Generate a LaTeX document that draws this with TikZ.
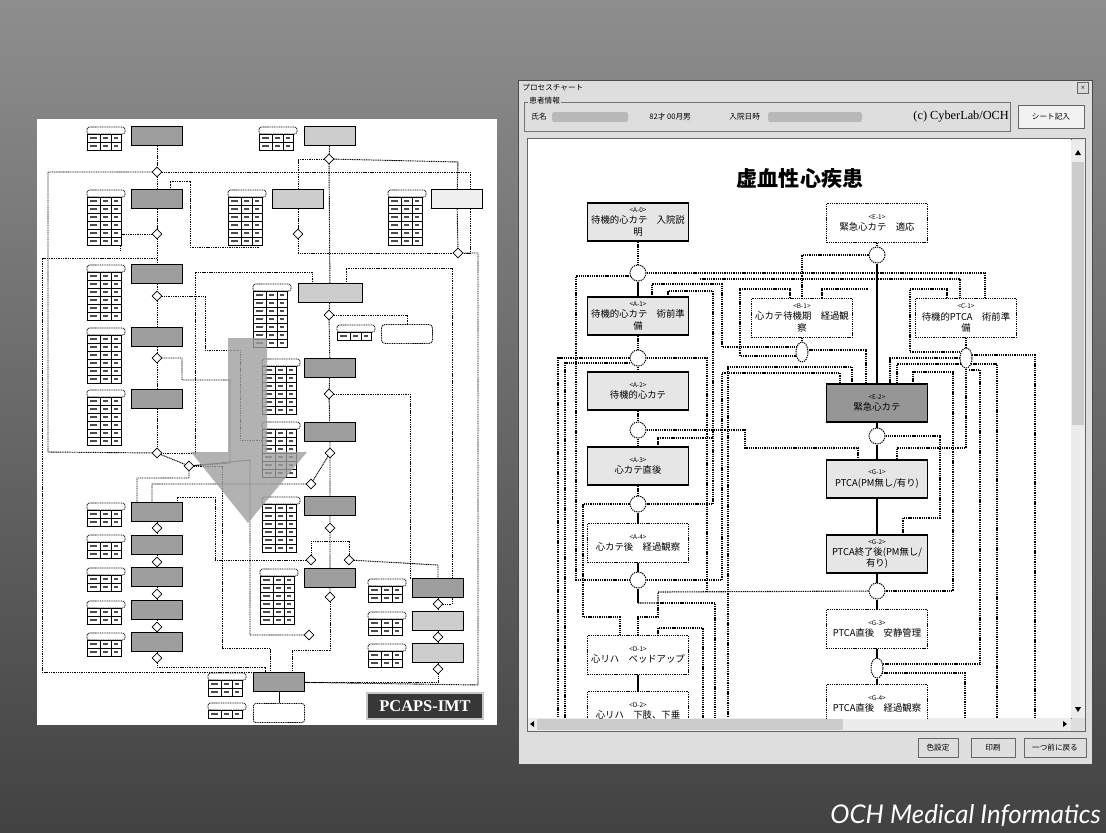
\documentclass[tikz,border=0pt]{standalone}
\usepackage{fontspec}
\setmainfont{Liberation Serif}
\newfontfamily\cjk{Noto Sans CJK JP}
\newfontfamily\footfont{Lato}
\usetikzlibrary{shapes.geometric, positioning, calc}

\definecolor{bgtop}{RGB}{142,142,142}
\definecolor{bgbot}{RGB}{66,66,66}
\definecolor{winbg}{RGB}{222,222,222}
\definecolor{donefill}{RGB}{230,230,230}
\definecolor{nowfill}{RGB}{150,150,150}
\definecolor{lgdark}{RGB}{158,158,158}
\definecolor{lglight}{RGB}{205,205,205}
\definecolor{labelbg}{RGB}{55,55,55}

\pgfdeclarelayer{back}
\pgfdeclarelayer{wires}
\pgfsetlayers{back,wires,main}

% right chart
\tikzstyle{pbox} = [draw, dash pattern=on 1.1pt off 0.8pt, line width=0.95pt, fill=white, minimum width=3.03cm,
                    minimum height=1.15cm, align=center, inner sep=1pt, font=\cjk\fontsize{8}{9.5}\selectfont]
\tikzstyle{pdone} = [pbox, solid, line width=1.4pt, fill=donefill]
\tikzstyle{pnow} = [pdone, fill=nowfill]
\tikzstyle{junc} = [draw, dash pattern=on 1.1pt off 0.8pt, line width=0.85pt, circle, fill=white, minimum size=0.48cm, inner sep=0pt]
\tikzstyle{jell} = [junc, ellipse, minimum width=0.36cm, minimum height=0.6cm]
\tikzstyle{wire} = [dash pattern=on 1.1pt off 0.8pt, line width=0.95pt]
\tikzstyle{link} = [line width=0.9pt]
\tikzstyle{hfont} = [font=\cjk\fontsize{6.5}{7}\selectfont, inner sep=1pt]
\tikzstyle{wbtn} = [draw=black!60, fill=winbg, minimum height=0.57cm, inner sep=1pt, font=\cjk\fontsize{6.5}{7}\selectfont]
% left sheet
\tikzstyle{lproc} = [draw, line width=0.7pt, fill=lgdark, minimum width=1.53cm, minimum height=0.57cm, inner sep=0pt]
\tikzstyle{lprocl} = [lproc, fill=lglight]
\tikzstyle{ldia} = [draw, diamond, fill=white, minimum size=0.3cm, inner sep=0pt, line width=0.6pt]
\tikzstyle{lwire} = [dash pattern=on 0.9pt off 0.6pt, line width=0.8pt]

\newcommand\boxtag[1]{{\fontsize{5.5}{6}\selectfont #1}}
\newcommand\ltab[3]{%
  \draw[dash pattern=on 0.9pt off 0.6pt, line width=0.6pt, rounded corners=2pt, fill=white] (#1,#2) rectangle ++(38,7);
  \draw[fill=white, line width=0.6pt] (#1,#2+7) rectangle ++(34,#3*8);
  \foreach \r in {1,...,#3}{
    \draw[line width=0.45pt] (#1,#2+7+\r*8) -- ++(34,0);
    \draw[black!70, line width=1pt] (#1+3,#2+3+\r*8) -- ++(7,0) (#1+16,#2+3+\r*8) -- ++(5,0) (#1+27,#2+3+\r*8) -- ++(4,0);
  }
  \draw[line width=0.45pt] (#1+13,#2+7) -- ++(0,#3*8) (#1+24,#2+7) -- ++(0,#3*8);
}

\begin{document}
\begin{tikzpicture}[x=0.03cm, y=-0.03cm]
\useasboundingbox (0,0) rectangle (1106,833);

\begin{pgfonlayer}{back}
  \shade[top color=bgtop, bottom color=bgbot] (0,0) rectangle (1106,833);
  \fill[white] (37,119) rectangle (497,725);
  \draw[fill=winbg, draw=black!70] (518,80) rectangle (1092,764);
  \draw[fill=white, draw=black!60] (527,138) rectangle (1071,718);
\end{pgfonlayer}

% ---------------- left sheet ----------------
\node[lproc] (l1) at (157,136) {};
\node[lprocl] (l2) at (330,136) {};
\node[lproc] (l3) at (157,199) {};
\node[lprocl] (l4) at (298,199) {};
\node[lprocl, fill=gray!12] (l5) at (457,199) {};
\node[lproc] (l6) at (157,274) {};
\node[lprocl, minimum width=1.92cm] (l7) at (330,293) {};
\node[lproc] (l8) at (157,337) {};
\node[lproc] (l9) at (330,368) {};
\node[lproc] (l10) at (157,399) {};
\node[lproc] (l11) at (330,432) {};
\node[lproc] (l12) at (157,512) {};
\node[lproc] (l13) at (330,506) {};
\node[lproc] (l14) at (157,545) {};
\node[lproc] (l15) at (157,577) {};
\node[lproc] (l16) at (330,578) {};
\node[lproc] (l17) at (157,610) {};
\node[lproc] (l18) at (438,588) {};
\node[lprocl] (l19) at (438,621) {};
\node[lproc] (l20) at (157,642) {};
\node[lprocl] (l21) at (438,653) {};
\node[lproc] (l22) at (279,682) {};
\node[lproc, fill=white, dash pattern=on 0.9pt off 0.6pt, rounded corners=2pt] (l23) at (279,713) {};
\node[lproc, fill=white, dash pattern=on 0.9pt off 0.6pt, rounded corners=3pt] (l24) at (407,334) {};

\ltab{87}{127}{2} \ltab{259}{127}{2}
\ltab{87}{190}{6} \ltab{228}{190}{6} \ltab{388}{190}{6}
\ltab{87}{265}{6} \ltab{253}{284}{7}
\ltab{87}{328}{6} \ltab{337}{325}{1}
\ltab{262}{359}{6} \ltab{87}{390}{6}
\ltab{262}{422}{6}
\ltab{87}{503}{2} \ltab{262}{497}{6}
\ltab{87}{535}{2} \ltab{87}{568}{2} \ltab{260}{569}{6}
\ltab{87}{601}{2} \ltab{368}{579}{2} \ltab{368}{612}{2}
\ltab{87}{633}{2} \ltab{368}{644}{2}
\ltab{208}{673}{2} \ltab{208}{703}{1}

\node[ldia] (ld1) at (157,172) {};
\node[ldia] (ld2) at (329,159) {};
\node[ldia] (ld3) at (157,234) {};
\node[ldia] (ld4) at (298,234) {};
\node[ldia] (ld5) at (458,253) {};
\node[ldia] (ld6) at (157,296) {};
\node[ldia] (ld7) at (329,315) {};
\node[ldia] (ld8) at (157,358) {};
\node[ldia] (ld9) at (329,394) {};
\node[ldia] (ld10) at (157,453) {};
\node[ldia] (ld11) at (330,453) {};
\node[ldia] (ld12) at (189,466) {};
\node[ldia] (ld13) at (311,484) {};
\node[ldia] (ld14) at (157,528) {};
\node[ldia] (ld15) at (330,528) {};
\node[ldia] (ld16) at (157,562) {};
\node[ldia] (ld17) at (311,560) {};
\node[ldia] (ld18) at (349,560) {};
\node[ldia] (ld19) at (157,594) {};
\node[ldia] (ld20) at (330,597) {};
\node[ldia] (ld21) at (438,604) {};
\node[ldia] (ld22) at (157,627) {};
\node[ldia] (ld23) at (309,635) {};
\node[ldia] (ld24) at (438,637) {};
\node[ldia] (ld25) at (157,658) {};
\node[ldia] (ld26) at (438,669) {};

\begin{pgfonlayer}{wires}
  \draw[lwire] (l1) -- (ld1) -- (l3) -- (ld3) -- (l6) -- (ld6) -- (l8) -- (ld8) -- (l10) -- (ld10);
  \draw[lwire] (l12) -- (ld14) -- (l14) -- (ld16) -- (l15) -- (ld19) -- (l17) -- (ld22) -- (l20) -- (ld25);
  \draw[lwire] (l2) -- (ld2) -- (l7) -- (ld7) -- (l9) -- (ld9) -- (l11) -- (ld11) -- (l13) -- (ld15) -- (l16) -- (ld20);
  \draw[lwire] (ld20) -- (330,650) -- (292,650) -- (292,673);
  \draw[lwire] (l4) -- (ld4);
  \draw[lwire] (l5) -- (ld5);
  \draw[lwire] (ld1) -- (470,172) -- (470,253) -- (ld5);
  \draw[lwire] (ld1) -- (48,172) -- (48,452) -- (ld10);
  \draw[lwire] (ld2) -- (298,159) -- (l4);
  \draw[lwire] (ld2) -- (458,162) -- (l5);
  \draw[lwire] (ld4) -- (298,253) -- (ld5);
  \draw[lwire] (ld5) -- (478,253) -- (478,685) -- (l22);
  \draw[lwire] (157,258) -- (42,258) -- (42,672) -- (258,672) -- (258,673);
  \draw[lwire] (ld7) -| (l24);
  \draw[lwire] (ld10) -- (ld12) -- (189,478) -- (137,478) -- (137,503);
  \draw[lwire] (ld11) -- (ld13) -- (152,484) -- (152,503);
  \draw[lwire] (177,503) -- (177,497) -- (215,497) -- (215,560) -- (ld17);
  \draw[lwire] (ld17) -- (311,541) -- (349,541) -- (ld18);
  \draw[lwire] (ld18) -- (438,565) -- (l18);
  \draw[lwire] (l18) -- (ld21) -- (l19) -- (ld24) -- (l21) -- (ld26);
  \draw[lwire] (ld26) |- (l22);
  \draw[lwire] (ld25) -- (157,667) -- (265,667) -- (265,673);
  \draw[lwire] (ld12) -- (222,466) -- (222,648) -- (270,648) -- (270,673);
  \draw[lwire] (312,284) -- (312,272) -- (195,272) -- (195,453) -- (ld10);
  \draw[lwire] (346,284) -- (346,268) -- (452,268) -- (452,604) -- (ld21);
  \draw[lwire] (ld23) -- (250,635) -- (250,460) -- (ld12);
  \draw[lwire] (170,190) -- (170,181) -- (190,181) -- (190,247) -- (259,247);
  \draw[lwire] (ld3) -- (120,234) -- (120,250);
  \draw[lwire] (ld9) -- (410,394) -- (410,578) -- (426,578);
  \draw[lwire] (ld6) -- (205,296) -- (205,350) -- (240,350) -- (240,440) -- (262,440);
  \draw[lwire] (ld8) -- (182,358) -- (182,380) -- (230,380) -- (230,463) -- (ld12);
  \draw[link, line width=0.6pt] (l22) -- (l23);
\end{pgfonlayer}

% big arrow
\fill[gray!75, opacity=0.8] (228,338) -- (267,338) -- (267,452) -- (307,452) -- (248,523)
  -- (191,452) -- (228,452) -- cycle;

\node[draw=gray!45, line width=1pt, fill=labelbg, minimum width=3.48cm, minimum height=0.78cm,
      text=white, font=\bfseries\fontsize{14}{14}\selectfont] (pcaps) at (425,706) {PCAPS-IMT};

% ---------------- window ----------------
\node[hfont, anchor=west] (wtitle) at (521,88) {プロセスチャート};
\node[draw=black!60, fill=gray!30, minimum size=0.33cm, inner sep=0pt, font=\fontsize{7}{7}\selectfont] (wclose) at (1083,88) {×};
\draw[black!55, line width=0.4pt] (524,102) rectangle (1010,131);
\node[hfont, anchor=west, fill=winbg] (wgroup) at (528,101) {患者情報};
\node[hfont, anchor=west] (lname) at (530,117) {氏名};
\fill[gray!55, rounded corners=2pt] (552,112) rectangle (628,122);
\node[hfont, anchor=west] (age) at (648,117) {82才 00月};
\node[hfont, fill=gray!30, minimum size=0.3cm] (sex) at (687,117) {男};
\node[hfont, anchor=west] (ladm) at (728,117) {入院日時};
\fill[gray!55, rounded corners=2pt] (768,112) rectangle (862,122);
\node[anchor=east, font=\fontsize{10.5}{11}\selectfont, inner sep=0pt] (copy) at (1009,117) {(c) CyberLab/OCH};
\node[wbtn, fill=gray!10, minimum width=1.98cm, minimum height=0.69cm, line width=0.8pt] (sheet) at (1051,117) {シート記入};

% scrollbars
\fill[gray!15] (1071,140) rectangle (1085,718);
\fill[gray!40] (1072,162) rectangle (1084,425);
\fill[black] (1075,155) -- (1081,155) -- (1078,150) -- cycle;
\fill[black] (1075,707) -- (1081,707) -- (1078,712) -- cycle;
\fill[gray!15] (527,718) rectangle (1071,731);
\fill[gray!40] (537,719) rectangle (843,730);
\fill[black] (534,721) -- (534,727) -- (530,724) -- cycle;
\fill[black] (1063,721) -- (1063,727) -- (1067,724) -- cycle;
\draw[black!60] (527,138) rectangle (1085,731);

\node[wbtn, minimum width=1.2cm] (bcolor) at (938,748) {色設定};
\node[wbtn, minimum width=1.32cm] (bprint) at (993,748) {印刷};
\node[wbtn, minimum width=1.86cm] (bback) at (1055,748) {一つ前に戻る};

% ---------------- process chart ----------------
\begin{scope}
\clip (527,138) rectangle (1071,718);
\node[font=\cjk\bfseries\fontsize{18}{20}\selectfont] (title) at (800,179) {虚血性心疾患};

\node[pdone] (a0) at (638,222) {\boxtag{<A-0>}\\待機的心カテ　入院説\\明};
\node[pbox] (e1) at (877,223) {\boxtag{<E-1>}\\緊急心カテ　適応};
\node[pdone] (a1) at (638,316) {\boxtag{<A-1>}\\待機的心カテ　術前準\\備};
\node[pbox] (b1) at (802,318) {\boxtag{<B-1>}\\心カテ待機期　経過観\\察};
\node[pbox] (c1) at (966,318) {\boxtag{<C-1>}\\待機的PTCA　術前準\\備};
\node[pdone] (a2) at (638,391) {\boxtag{<A-2>}\\待機的心カテ};
\node[pnow] (e2) at (877,403) {\boxtag{<E-2>}\\緊急心カテ};
\node[pdone] (a3) at (638,466) {\boxtag{<A-3>}\\心カテ直後};
\node[pdone] (g1) at (877,479) {\boxtag{<G-1>}\\PTCA(PM無し/有り)};
\node[pbox] (a4) at (638,543) {\boxtag{<A-4>}\\心カテ後　経過観察};
\node[pdone] (g2) at (877,554) {\boxtag{<G-2>}\\PTCA終了後(PM無し/\\有り)};
\node[pbox] (g3) at (877,629) {\boxtag{<G-3>}\\PTCA直後　安静管理};
\node[pbox] (d1) at (638,655) {\boxtag{<D-1>}\\心リハ　ベッドアップ};
\node[pbox] (d2) at (638,711) {\boxtag{<D-2>}\\心リハ　下肢、下垂};
\node[pbox] (g4) at (877,704) {\boxtag{<G-4>}\\PTCA直後　経過観察};

\node[junc] (a0c) at (638,273) {};
\node[junc] (e1c) at (877,255) {};
\node[junc] (a1c) at (638,358) {};
\node[jell] (b1e) at (802,352) {};
\node[jell] (c1e) at (966,358) {};
\node[junc] (a2c) at (638,430) {};
\node[junc] (e2c) at (877,436) {};
\node[junc] (a3c) at (638,504) {};
\node[junc] (a4c) at (638,580) {};
\node[junc] (g2c) at (877,591) {};
\node[jell] (g3e) at (877,668) {};
\end{scope}

\begin{pgfonlayer}{wires}
  \clip (527,138) rectangle (1071,718);
  % column A
  \draw[wire] (a0) -- (a0c);
  \draw[link] (a0c) -- (a1);
  \draw[wire] (a1) -- (a1c) -- (a2) -- (a2c) -- (a3) -- (a3c);
  \draw[link] (a3c) -- (a4) -- (a4c) -- (638,603);
  \draw[link] (d1) -- (d2);
  % column E / G
  \draw[wire] (e1) -- (e1c);
  \draw[link] (e1c) -- (e2) -- (e2c) -- (g1) -- (g2) -- (g2c) -- (g3) -- (g3e) -- (g4);
  \draw[wire] (e1c) -| (b1);
  \draw[wire] (b1) -- (b1e);
  \draw[wire] (c1) -- (c1e);
  % branches
  \draw[wire] (a0c) -- (985,273) -- (985,298);
  \draw[wire] (700,279) -- (960,279) -- (960,298);
  \draw[wire] (631,276) -- (576,276) -- (576,580) -- (a4c);
  \draw[wire] (668,297) -- (668,291) -- (713,291) -- (713,504) -- (a3c);
  \draw[wire] (652,297) -- (652,284) -- (722,284) -- (722,347) -- (797,347);
  \draw[wire] (790,298) -- (790,289) -- (740,289) -- (740,356) -- (797,356);
  \draw[wire] (822,298) -- (822,289) -- (868,289);
  \draw[wire] (947,298) -- (947,289) -- (910,289) -- (910,352) -- (960,352);
  \draw[wire] (807,350) -- (866,350) -- (866,384);
  \draw[wire] (960,358) -- (890,358) -- (890,384);
  \draw[wire] (961,364) -- (897,364) -- (897,384);
  \draw[wire] (913,384) -- (913,372) -- (953,372) -- (953,591) -- (g2c);
  \draw[wire] (c1e) -- (966,448) -- (897,448) -- (897,460);
  \draw[wire] (e2c) -- (940,436) -- (940,518) -- (903,518) -- (903,535);
  \draw[wire] (972,355) -- (1035,355) -- (1035,720);
  \draw[wire] (971,364) -- (997,364) -- (997,720);
  \draw[wire] (969,370) -- (980,370) -- (980,664) -- (883,664);
  \draw[wire] (882,673) -- (965,673) -- (965,720);
  \draw[wire] (a4c) -- (722,580) -- (722,373) -- (840,373) -- (840,384);
  \draw[wire] (852,384) -- (852,367) -- (728,367) -- (728,720);
  \draw[wire] (a2c) -- (745,430) -- (745,448) -- (858,448) -- (858,460);
  \draw[wire] (658,447) -- (658,438) -- (713,438);
  \draw[wire] (a3c) -- (583,504) -- (583,617) -- (620,617) -- (620,636);
  \draw[wire] (638,603) -- (658,603) -- (658,592) -- (g2c);
  \draw[wire] (d1) -- (638,617) -- (658,617) -- (658,603);
  \draw[wire] (658,603) -- (715,603) -- (715,720);
  \draw[wire] (658,636) -- (658,628) -- (703,628) -- (703,720);
  \draw[wire] (a1c) -- (558,358) -- (558,720);
  \draw[wire] (630,363) -- (565,363) -- (565,720);
  \draw[wire] (a1c) -- (707,358) -- (707,592);
\end{pgfonlayer}

% footer
\node[anchor=base east, text=white, font=\footfont\itshape\fontsize{22}{22}\selectfont, inner sep=0pt] (footer) at (1101,823) {OCH Medical Informatics};
\end{tikzpicture}
\end{document}
